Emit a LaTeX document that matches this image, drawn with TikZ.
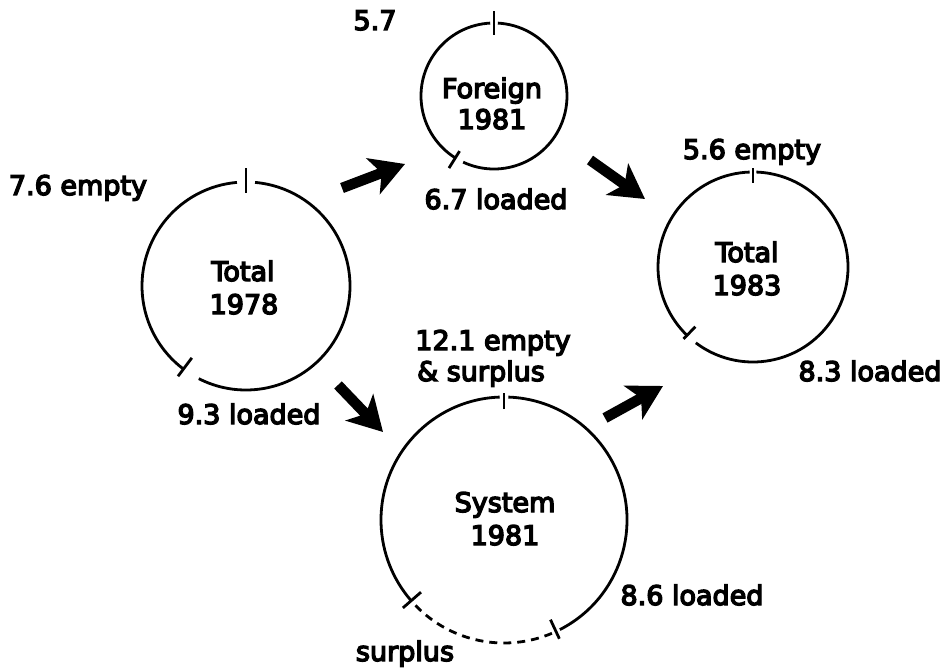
\documentclass[tikz,border=0pt]{standalone}
\usepackage{fontspec}
\setmainfont{DejaVu Sans}
\usetikzlibrary{arrows.meta}
\newcommand\inkheavy{\special{pdf:literal 2 Tr 1.4 w}}
\begin{document}
\begin{tikzpicture}[x=1pt,y=1pt,
  ring/.style={line width=2.8pt},
  dashring/.style={line width=2.8pt, dash pattern=on 8pt off 6pt},
  lab/.style={font=\fontsize{27}{30}\selectfont\inkheavy, anchor=base, inner sep=0pt},
  bigarrow/.style={line width=10.5pt, -{Stealth[length=34pt,width=38pt,inset=9pt]}}]
\useasboundingbox (0,0) rectangle (949,-668);
\fill[white] (0,0) rectangle (949,-668);

% circle centres
\coordinate (T78) at (246,-286);
\coordinate (F81) at (494,-96);
\coordinate (T83) at (753,-267);
\coordinate (S81) at (504,-520);

% Total 1978
\draw[ring, shift={(T78)}] (95:104pt) arc[start angle=95, end angle=233, radius=104pt];
\draw[ring, shift={(T78)}] (243:104pt) arc[start angle=243, end angle=445, radius=104pt];
\draw[ring, shift={(T78)}] (90:93pt) -- (90:118pt);
\draw[ring, shift={(T78)}] (233:90pt) -- (233:113pt);

% Foreign 1981
\draw[ring, shift={(F81)}] (93:73pt) arc[start angle=93, end angle=238, radius=73pt];
\draw[ring, shift={(F81)}] (245:73pt) arc[start angle=245, end angle=447, radius=73pt];
\draw[ring, shift={(F81)}] (90:61pt) -- (90:85pt);
\draw[ring, shift={(F81)}] (238:65pt) -- (238:85pt);

% Total 1983
\draw[ring, shift={(T83)}] (92:95pt) arc[start angle=92, end angle=226, radius=95pt];
\draw[ring, shift={(T83)}] (233:95pt) arc[start angle=233, end angle=448, radius=95pt];
\draw[ring, shift={(T83)}] (90:84pt) -- (90:99pt);
\draw[ring, shift={(T83)}] (226:83pt) -- (226:100pt);

% System 1981
\draw[ring, shift={(S81)}] (92:123pt) arc[start angle=92, end angle=221, radius=123pt];
\draw[dashring, shift={(S81)}] (224:123pt) arc[start angle=224, end angle=293, radius=123pt];
\draw[ring, shift={(S81)}] (297:123pt) arc[start angle=297, end angle=448, radius=123pt];
\draw[ring, shift={(S81)}] (90:111pt) -- (90:127pt);
\draw[ring, shift={(S81)}] (221:110pt) -- (221:134pt);
\draw[ring, shift={(S81)}] (295:110pt) -- (295:131pt);

% labels
\node[lab] (l57) at (375,-30) {5.7};
\node[lab] (f1) at (492,-98) {Foreign};
\node[lab] (f2) at (492,-129) {1981};
\node[lab] (l76) at (78,-195) {7.6 empty};
\node[lab] (l67) at (496,-209) {6.7 loaded};
\node[lab] (l56) at (752,-159) {5.6 empty};
\node[lab] (t83a) at (747,-262) {Total};
\node[lab] (t83b) at (747,-295) {1983};
\node[lab] (t78a) at (243,-281) {Total};
\node[lab] (t78b) at (244,-314) {1978};
\node[lab] (l121) at (493,-350) {12.1 empty};
\node[lab] (lsur) at (481,-381) {\& surplus};
\node[lab] (l83) at (870,-381) {8.3 loaded};
\node[lab] (l93) at (249,-424) {9.3 loaded};
\node[lab] (s1) at (505,-512) {System};
\node[lab] (s2) at (505,-545) {1981};
\node[lab] (l86) at (692,-605) {8.6 loaded};
\node[lab] (lsp) at (405,-661) {surplus};

% flow arrows
\coordinate (a1s) at (342,-188); \coordinate (a1e) at (405,-164);
\coordinate (a2s) at (590,-160); \coordinate (a2e) at (645,-199);
\coordinate (a3s) at (338,-385); \coordinate (a3e) at (383,-432);
\coordinate (a4s) at (605,-418); \coordinate (a4e) at (663,-386);
\draw[bigarrow] (a1s) -- (a1e);
\draw[bigarrow] (a2s) -- (a2e);
\draw[bigarrow] (a3s) -- (a3e);
\draw[bigarrow] (a4s) -- (a4e);
\end{tikzpicture}
\end{document}
